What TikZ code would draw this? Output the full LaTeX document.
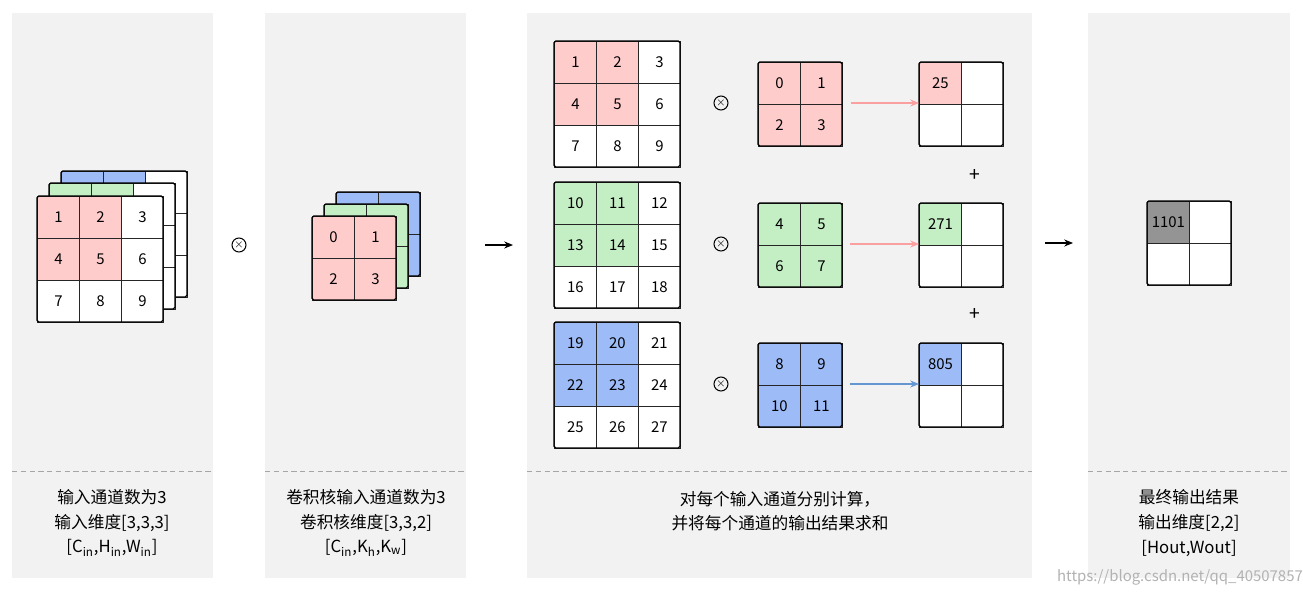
\documentclass[tikz,border=0pt]{standalone}
\usepackage{fontspec}
\setmainfont{Noto Sans CJK SC}
\usetikzlibrary{arrows.meta}
\definecolor{pk}{HTML}{FFCCCC}
\definecolor{gn}{HTML}{C4EEC4}
\definecolor{bl}{HTML}{9DBBF6}
\definecolor{pnl}{HTML}{F2F2F2}
\tikzset{
  panel/.style={fill=pnl,draw=none},
  cell/.style={draw=black!85,line width=0.5pt,minimum size=0.84cm,inner sep=0pt,font=\fontsize{8.5pt}{10pt}\selectfont,anchor=north west},
  lbl/.style={align=center,font=\fontsize{9.5pt}{14pt}\selectfont},
  otimes/.style={circle,draw,line width=0.6pt,inner sep=0pt,minimum size=0.28cm,font=\fontsize{6pt}{6pt}\selectfont\bfseries},
  arr/.style={-{Stealth[length=5pt,width=4pt]},line width=0.6pt},
}
\newcommand{\grid}[6]{% x,y,n,fill colored, list of labels, name
  \foreach \v [count=\i from 0] in {#5}{
    \pgfmathtruncatemacro{\r}{\i/#3}
    \pgfmathtruncatemacro{\c}{\i-\r*#3}
    \pgfmathtruncatemacro{\col}{(\r<2)&&(\c<2)}
    \ifnum\col=1 \def\ff{#4}\else\def\ff{white}\fi
    \node[cell,fill=\ff] (#6-\i) at ({#1+42*\c},{#2+42*\r}) {\v};
  }
  \draw[line width=0.7pt,rounded corners=1pt] (#1,#2) rectangle ({#1+42*#3},{#2+42*#3});
}
\begin{document}
\begin{tikzpicture}[x=0.02cm,y=-0.02cm]
\useasboundingbox (0,0) rectangle (1303,595);
\fill[white] (0,0) rectangle (1303,595);
\fill[panel] (12,13) rectangle (213,578);
\fill[panel] (265,13) rectangle (466,578);
\fill[panel] (527,13) rectangle (1032,578);
\fill[panel] (1088,13) rectangle (1290,578);
\foreach \a/\b in {12/213,265/466,527/1032,1088/1290}
  \draw[densely dashed,black!35,line width=0.4pt] (\a,471) -- (\b,471);
% input stack
\grid{61}{171}{3}{bl}{,,,,,,,,}{ib}
\grid{49}{183}{3}{gn}{,,,,,,,,}{ig}
\grid{37}{196}{3}{pk}{1,2,3,4,5,6,7,8,9}{ip}
\node[otimes] (x1) at (239,245) {$\times$};
% kernel stack
\grid{336}{192}{2}{bl}{,,,}{kb}
\grid{324}{204}{2}{gn}{,,,}{kg}
\grid{312}{216}{2}{pk}{0,1,2,3}{kp}
\coordinate (a1s) at (485,245); \coordinate (a1e) at (513,245);
\draw[arr] (a1s) -- (a1e);
% panel 3
\grid{554}{41}{3}{pk}{1,2,3,4,5,6,7,8,9}{c1}
\grid{554}{182}{3}{gn}{10,11,12,13,14,15,16,17,18}{c2}
\grid{554}{322}{3}{bl}{19,20,21,22,23,24,25,26,27}{c3}
\grid{758}{62}{2}{pk}{0,1,2,3}{k1}
\grid{758}{203}{2}{gn}{4,5,6,7}{k2}
\grid{758}{343}{2}{bl}{8,9,10,11}{k3}
\node[otimes] (x2) at (721,103) {$\times$};
\node[otimes] (x3) at (721,244) {$\times$};
\node[otimes] (x4) at (721,384) {$\times$};
\newcommand{\outg}[4]{%
  \node[cell,fill=#3] (#4-0) at (919,#1) {#2};
  \node[cell,fill=white] (#4-1) at (961,#1) {};
  \node[cell,fill=white] (#4-2) at (919,{#1+42}) {};
  \node[cell,fill=white] (#4-3) at (961,{#1+42}) {};
  \draw[line width=0.7pt,rounded corners=1pt] (919,#1) rectangle (1003,{#1+84});
}
\outg{62}{25}{pk}{o1}
\outg{203}{271}{gn}{o2}
\outg{343}{805}{bl}{o3}
\draw[arr,draw=pk!80!red!60,color={rgb,255:red,250;green,160;blue,160}] (k1-1.east|-0,103) ++(8,0) coordinate(s1) -- (o1-0.west|-0,103);
\draw[arr,color={rgb,255:red,250;green,160;blue,160}] (850,244) coordinate(s2) -- (o2-2.west|-0,244);
\draw[arr,color={rgb,255:red,100;green,150;blue,210}] (850,384) coordinate(s3) -- (o3-2.west|-0,384);
\node[font=\fontsize{11pt}{11pt}\selectfont] (p1) at (975,175) {+};
\node[font=\fontsize{11pt}{11pt}\selectfont] (p2) at (975,314) {+};
\coordinate (a2s) at (1045,243); \coordinate (a2e) at (1073,243);
\draw[arr] (a2s) -- (a2e);
% final
\node[cell,fill=black!42] (f0) at (1147,201) {1101};
\node[cell,fill=white] (f1) at (1189,201) {};
\node[cell,fill=white] (f2) at (1147,243) {};
\node[cell,fill=white] (f3) at (1189,243) {};
\draw[line width=0.7pt,rounded corners=1pt] (1147,201) rectangle (1231,285);
% labels
\node[lbl] (t1) at (112,523) {输入通道数为3\\输入维度[3,3,3]\\{[C\textsubscript{in},H\textsubscript{in},W\textsubscript{in}]}};
\node[lbl] (t2) at (366,523) {卷积核输入通道数为3\\卷积核维度[3,3,2]\\{[C\textsubscript{in},K\textsubscript{h},K\textsubscript{w}]}};
\node[lbl] (t3) at (780,511) {对每个输入通道分别计算，\\并将每个通道的输出结果求和};
\node[lbl] (t4) at (1189,523) {最终输出结果\\输出维度[2,2]\\{[Hout,Wout]}};
\node[font=\fontsize{8.5pt}{9pt}\selectfont,text=black!30] (wm) at (1180,577) {https://blog.csdn.net/qq\_40507857};
\end{tikzpicture}
\end{document}
